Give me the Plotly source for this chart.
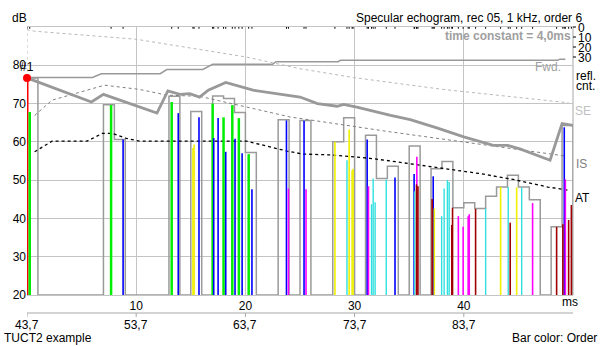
import plotly.graph_objects as go

# ---------------- data ----------------
# histogram of energy per 1 ms bin (dB); 20 = empty bin
hist_levels = [76.7, 20, 20, 20, 20, 20, 20, 69.7, 60.6, 20,
               20, 20, 20, 71.9, 20, 67.9, 20, 72.0, 71.3, 67.7,
               57.2, 20, 20, 65.8, 20, 65.6, 20, 20, 60.0, 66.3,
               20, 61.7, 50.4, 53.6, 20, 58.9, 20, 53.0, 54.9, 42.8,
               44.1, 42.6, 45.8, 48.2, 51.3, 48.2, 44.9, 20, 37.8, 64.3]

# individual reflections: arrival time (ms), level (dB), reflection order
bar_times = [0.0, 0.25, 7.7, 8.8, 13.25, 13.85, 15.2, 15.3, 15.75, 17.0,
             17.1, 17.5, 18.0, 18.2, 18.8, 19.05, 19.4, 19.7, 20.3, 20.6,
             23.76, 23.94, 25.37, 25.55, 28.2, 29.3, 29.5, 29.77, 29.86, 31.15,
             31.27, 31.55, 31.7, 31.88, 32.9, 33.7, 35.45, 35.5, 35.67, 35.7,
             35.8, 37.1, 37.2, 37.3, 37.97, 38.2, 38.5, 38.66, 38.9, 38.97,
             39.5, 39.94, 40.4, 40.5, 41.08, 42.0, 43.37, 44.07, 44.25, 44.84,
             45.3, 46.3, 48.5, 49.07, 49.2, 49.3, 49.6, 49.85]
bar_levels = [76.7, 67.8, 69.6, 60.6, 70.4, 67.5, 58.4, 59.3, 66.4, 70.0,
              61.0, 66.2, 66.4, 57.4, 69.6, 60.8, 66.2, 57.0, 56.8, 47.6,
              65.6, 47.8, 65.5, 47.6, 60.0, 55.2, 63.2, 52.6, 53.0, 60.6,
              48.4, 43.7, 50.4, 44.2, 50.2, 50.7, 51.6, 47.1, 48.9, 56.1,
              48.4, 45.1, 51.0, 42.6, 40.6, 47.8, 50.0, 49.5, 38.3, 42.8,
              40.6, 37.8, 40.6, 41.1, 42.5, 42.6, 48.2, 48.2, 38.9, 48.1,
              48.1, 44.0, 37.8, 38.5, 63.8, 50.2, 39.6, 43.5]
bar_orders = [0, 1, 1, 2, 1, 2, 3, 3, 2, 1,
              2, 2, 1, 2, 1, 2, 1, 2, 1, 2,
              2, 4, 2, 4, 3, 5, 3, 3, 3, 2,
              4, 5, 5, 5, 5, 2, 2, 5, 6, 4,
              6, 6, 2, 3, 5, 5, 5, 5, 6, 6,
              4, 4, 4, 4, 6, 5, 3, 5, 6, 3,
              5, 4, 6, 6, 2, 4, 6, 6]

# energy curve with 4 ms time constant
tc_t = [0.0, 5.9, 7.0, 11.9, 12.9, 14.0, 14.9, 15.8, 16.6, 18.2, 20.7, 22.5, 25.0,
        26.6, 28.4, 29.0, 30.2, 33.3, 35.1, 37.6, 40.0, 42.7, 44.0, 45.2, 47.9, 49.0, 50.0]
tc_db = [76.7, 70.4, 72.4, 67.5, 73.3, 72.4, 72.6, 71.7, 73.5, 75.5, 73.5, 72.7, 71.7,
         70.0, 69.3, 69.8, 69.1, 66.9, 65.8, 63.6, 61.3, 59.1, 59.1, 58.1, 55.2, 64.8, 64.3]

# forward integrated energy
fwd_t = [0.0, 6.0, 6.8, 12.2, 12.8, 16.1, 17.0, 22.5, 22.8, 28.5, 28.7, 48.6, 48.8, 49.3]
fwd_db = [76.8, 76.8, 77.8, 77.8, 78.9, 78.9, 80.25, 80.25, 80.95, 80.95, 81.3, 81.3, 81.6, 81.6]

# Schroeder (backward) integration
se_t = [0.0, 0.0, 0.7, 10.0, 20.1, 25.0, 29.9, 34.2, 38.1, 49.6]
se_db = [76.7, 89.3, 88.9, 86.8, 82.15, 79.1, 76.8, 75.2, 73.7, 70.2]

# IS curve
is_t = [0.7, 2.3, 7.1, 10.3, 12.8, 15.8, 24.1, 33.3, 49.3]
is_db = [66.9, 70.9, 74.8, 73.7, 72.2, 71.9, 66.5, 62.6, 56.3]

# AT curve
at_t = [0.7, 2.3, 5.5, 6.9, 7.8, 9.1, 10.3, 20.1, 23.8, 25.3, 27.8, 31.4, 33.3,
        36.9, 41.5, 44.5, 47.7, 49.5]
at_db = [57.4, 60.2, 60.2, 62.2, 62.2, 60.9, 60.2, 60.2, 57.6, 56.8, 56.6, 55.7, 55.0,
         53.5, 51.7, 50.2, 48.2, 47.4]

x_ticks = [10, 20, 30, 40]
y_ticks = [20, 30, 40, 50, 60, 70, 80]
abs_ticks = [0, 10, 20, 30, 40]
abs_labels = ["43,7", "53,7", "63,7", "73,7", "83,7"]
cnt_labels = ["0", "10", "20", "30"]

order_colors = ["#ff0000", "#00ee00", "#0000ff", "#f0f000", "#ff00ff", "#30e0e0", "#a00000"]
order_widths = [3, 2.5, 1.6, 1.6, 1.6, 1.4, 1.6]

FONT = "Liberation Sans, Arial, sans-serif"

# ---------------- figure ----------------
W, H = 600, 346
ML, MR, MT, MB = 27, 27, 27, 51
PW, PH = W - ML - MR, H - MT - MB


def px(x):
    return (x - ML) / PW


def py(y):
    return (H - MB - y) / PH


fig = go.Figure()

# histogram outline
hx = [0] + list(range(len(hist_levels))) + [len(hist_levels), len(hist_levels)]
hy = [20] + hist_levels + [hist_levels[-1], 20]
fig.add_trace(go.Scatter(x=hx, y=hy, mode="lines", line=dict(color="#9a9a9a", width=1.5, shape="hv"),
                         hoverinfo="skip", showlegend=False))

# curves
fig.add_trace(go.Scatter(x=se_t, y=se_db, mode="lines", line=dict(color="#b8b8b8", width=1, dash="dot"),
                         showlegend=False))
fig.add_trace(go.Scatter(x=fwd_t, y=fwd_db, mode="lines", line=dict(color="#999999", width=1.5),
                         showlegend=False))
fig.add_trace(go.Scatter(x=is_t, y=is_db, mode="lines", line=dict(color="#808080", width=1, dash="dot"),
                         showlegend=False))
fig.add_trace(go.Scatter(x=at_t, y=at_db, mode="lines", line=dict(color="#000000", width=1.3, dash="dot"),
                         showlegend=False))
fig.add_trace(go.Scatter(x=tc_t, y=tc_db, mode="lines", line=dict(color="#999999", width=2.8),
                         showlegend=False))

# reflection bars, one trace per order
for o in range(len(order_colors)):
    xs, ys = [], []
    for t, l, oo in zip(bar_times, bar_levels, bar_orders):
        if oo == o:
            xs += [t, t, None]
            ys += [20, l, None]
    fig.add_trace(go.Scatter(x=xs, y=ys, mode="lines",
                             line=dict(color=order_colors[o], width=order_widths[o]),
                             showlegend=False))

# reflection-count ticks at the top
cx, cy = [], []
for t in bar_times:
    cx += [t, t, None]
    cy += [90, 89.55, None]
fig.add_trace(go.Scatter(x=cx, y=cy, mode="lines", line=dict(color="#000000", width=1), showlegend=False))

# direct sound marker
fig.add_trace(go.Scatter(x=[bar_times[0]], y=[bar_levels[0]], mode="markers",
                         marker=dict(color="#ff0000", size=8, line=dict(width=0)), showlegend=False,
                         cliponaxis=False))

fig.update_layout(
    width=W, height=H,
    margin=dict(l=ML, r=MR, t=MT, b=MB),
    paper_bgcolor="white", plot_bgcolor="white",
    font=dict(family=FONT, size=12, color="black"),
    xaxis=dict(range=[0, 50], tickvals=x_ticks, ticktext=[str(v) for v in x_ticks], ticks="",
               showgrid=True, gridcolor="#c4c4c4", gridwidth=1, zeroline=False,
               showline=True, mirror=True, linecolor="#c4c4c4", linewidth=1),
    yaxis=dict(range=[20, 90], tickvals=y_ticks, ticktext=[str(v) for v in y_ticks], ticks="",
               showgrid=True, gridcolor="#c4c4c4", gridwidth=1, zeroline=False, showline=False),
)

shapes = []
# right border
shapes.append(dict(type="line", xref="paper", yref="paper", x0=1, x1=1, y0=0, y1=1,
                   line=dict(color="#a8a8a8", width=1), layer="below"))
# secondary absolute time axis
ya = py(313)
shapes.append(dict(type="line", xref="x", yref="paper", x0=0, x1=50, y0=ya, y1=ya,
                   line=dict(color="#a8a8a8", width=1)))
for v in abs_ticks:
    shapes.append(dict(type="line", xref="x", yref="paper", x0=v, x1=v, y0=ya, y1=py(317),
                       line=dict(color="#a8a8a8", width=1)))
# count-axis ticks
for i in range(len(cnt_labels)):
    yy = py(27 + 10 * i)
    shapes.append(dict(type="line", xref="paper", yref="paper", x0=1, x1=px(576), y0=yy, y1=yy,
                       line=dict(color="#000000", width=1)))
fig.update_layout(shapes=shapes)

ann = []


def A(text, x, y, xanchor="left", color="black", size=12, bold=False, xref="paper"):
    if bold:
        text = "<b>" + text + "</b>"
    ann.append(dict(text=text, x=x, y=y, xref=xref, yref="paper", xanchor=xanchor, yanchor="middle",
                    showarrow=False, font=dict(family=FONT, size=size, color=color)))


A("Specular echogram, rec 05, 1 kHz, order 6", px(584), py(18), "right")
A("dB", px(10), py(18), "left")
A("time constant = 4,0ms", px(573), py(36), "right", color="#a0a0a0", bold=True)
A("Fwd.", px(563), py(67), "right", color="#a0a0a0")
A("refl.", px(574), py(76), "left")
A("cnt.", px(574), py(86), "left")
for i, lab in enumerate(cnt_labels):
    A(lab, px(576), py(28 + 10 * i), "left")
A("SE", px(573), py(110.5), "left", color="#c0c0c0")
A("IS", px(574), py(164), "left", color="#808080")
A("AT", px(573), py(198), "left")
A("#1", px(27), py(67), "center")
A("ms", px(570), py(302), "center")
for v, lab in zip(abs_ticks, abs_labels):
    A(lab, v, py(325), "center", xref="x")
A("TUCT2 example", px(2), py(338), "left")
A("Bar color: Order", px(599), py(338), "right")
fig.update_layout(annotations=ann)

fig.write_html("out.html")
